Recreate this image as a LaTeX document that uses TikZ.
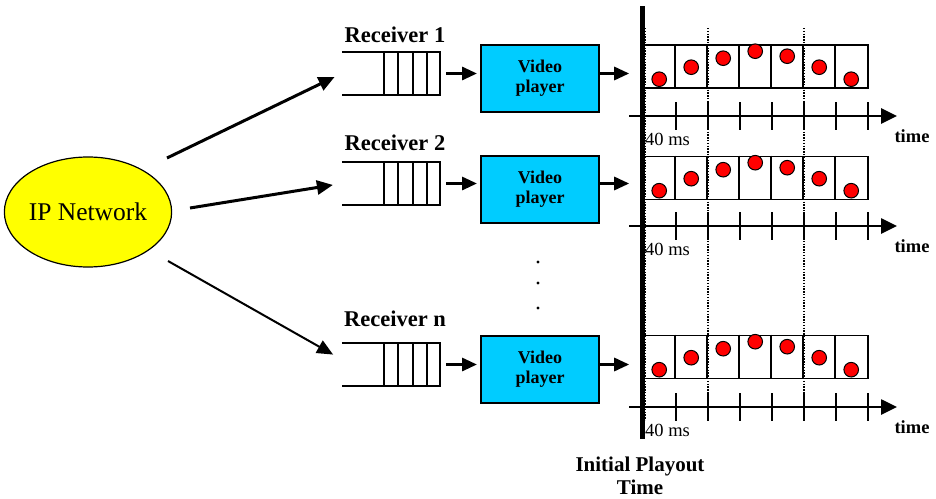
\documentclass[tikz,border=0pt]{standalone}
\usepackage{fontspec}
\setmainfont{Liberation Serif}
\usetikzlibrary{shapes.geometric,arrows.meta,calc}
\definecolor{netyellow}{HTML}{FFFF00}
\definecolor{playercyan}{HTML}{00CCFF}
\definecolor{dotred}{HTML}{FF0000}
\tikzset{
  netnode/.style={ellipse, draw, fill=netyellow, line width=1.2pt,
    minimum width=162, minimum height=110, inner sep=0,
    font=\fontsize{25.5}{28}\selectfont},
  feedarrow/.style={line width=3pt, -{Triangle[length=16pt,width=14pt]}},
  shortarrow/.style={line width=3pt, -{Triangle[length=15pt,width=13pt]}},
  queuebox/.style={rectangle, minimum width=98, minimum height=43, inner sep=0},
  qline/.style={line width=1.8pt},
  playerbox/.style={rectangle, draw, fill=playercyan, line width=2pt,
    minimum width=118, minimum height=67, align=center, inner sep=0,
    font=\bfseries\fontsize{18}{20}\selectfont},
  stripbox/.style={rectangle, draw, line width=1.6pt,
    minimum width=224, minimum height=43, inner sep=0},
  cellline/.style={line width=1.6pt},
  frame/.style={fill=dotred, draw=black, line width=1pt},
  timeaxis/.style={line width=2.6pt, -{Triangle[length=16pt,width=15pt]}},
  tickline/.style={line width=1.6pt},
  guide/.style={line width=1.3pt, dash pattern=on 1.4pt off 1.4pt},
  rlabel/.style={font=\bfseries\fontsize{22.5}{24}\selectfont, inner sep=0},
  mslabel/.style={font=\fontsize{18.5}{20}\selectfont, inner sep=0, anchor=west},
  timelabel/.style={font=\bfseries\fontsize{18.5}{20}\selectfont, inner sep=0},
}
\begin{document}
\begin{tikzpicture}[x=1pt,y=-1pt]
\useasboundingbox (0,0) rectangle (936,498);

% dotted guides through the frame strips
\foreach \gx in {645.5,708,804}{
  \draw[guide] (\gx,28) -- (\gx,420);
}

% the network
\node[netnode] (net) at (88,212) {IP Network};
\coordinate (n1) at (167,158);
\coordinate (n2) at (190,208);
\coordinate (n3) at (168,261);

% receivers: label, buffer queue, player, frame strip, time axis
\foreach \i/\ry/\qy/\vy/\sy/\ay/\lab in {
    1/35/73.5/78.5/66.5/116/1,
    2/143/183.5/189.5/178/226/2,
    3/319/364.5/369/357/407/n}{
  \node[rlabel] (r\i) at (395,\ry) {Receiver \lab};
  \node[queuebox] (q\i) at (391,\qy) {};
  \draw[qline] (q\i.north west) -- (q\i.north east) -- (q\i.south east) -- (q\i.south west);
  \foreach \d in {42,56,71,85}{
    \draw[qline] ($(q\i.north west)+(\d,0)$) -- ($(q\i.south west)+(\d,0)$);
  }
  \node[playerbox] (v\i) at (540,\vy) {Video\\player};
  \node[stripbox] (s\i) at (756,\sy) {};
  \foreach \k in {1,...,6}{
    \draw[cellline] ($(s\i.north west)+(32*\k,0)$) -- ($(s\i.south west)+(32*\k,0)$);
  }
  \foreach \k/\dy in {0/35,1/23,2/14,3/7,4/12,5/23,6/35}{
    \draw[frame] ($(s\i.north west)+(16+32*\k,\dy)$) circle (7.3);
  }
  \draw[shortarrow, shorten <=6pt, shorten >=3pt] (q\i.east) -- (q\i.east -| v\i.west);
  \draw[shortarrow, shorten >=14pt] (v\i.east |- q\i.east) -- (s\i.west |- q\i.east);
  \coordinate (ax\i) at (629,\ay);
  \coordinate (axe\i) at (897,\ay);
  \draw[timeaxis] (ax\i) -- (axe\i);
  \foreach \k in {1,...,7}{
    \draw[tickline] (644+32*\k,\ay-14) -- (644+32*\k,\ay+14);
  }
  \node[mslabel] (ms\i) at (645,\ay+23) {40 ms};
  \node[timelabel] (tm\i) at (912,\ay+20) {time};
}

% arrows from the network to the receivers
\draw[feedarrow, shorten >=8pt] (n1) -- (q1.west);
\draw[feedarrow, shorten >=9pt] (n2) -- (q2.west);
\draw[feedarrow, line width=2pt, shorten >=10pt] (n3) -- ($(q3.west)+(0,-5)$);

% ellipsis between receivers
\foreach \dy in {262,283,308}{
  \fill (538,\dy) circle (1.7);
}

% initial playout instant
\coordinate (pt) at (642,6);
\coordinate (pb) at (642,439);
\draw[line width=5pt] (pt) -- (pb);
\node[font=\bfseries\fontsize{21}{23}\selectfont, align=center, inner sep=0] (ipt) at (640,476) {Initial Playout\\Time};
\end{tikzpicture}
\end{document}
